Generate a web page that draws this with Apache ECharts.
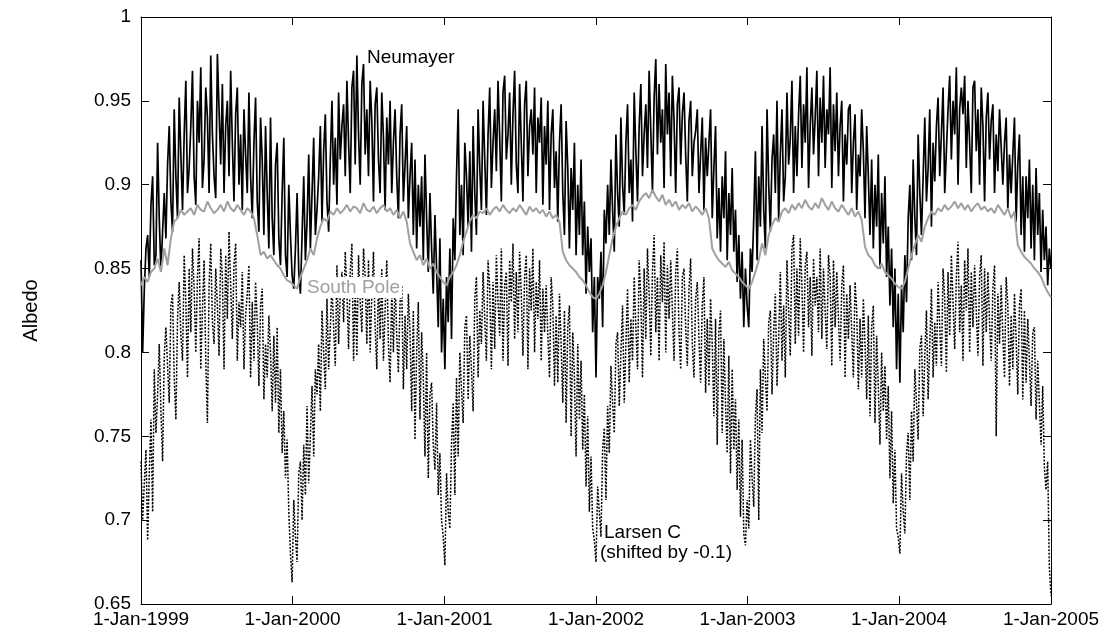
<!DOCTYPE html>
<html>
<head>
<meta charset="utf-8">
<script src="https://cdn.jsdelivr.net/npm/echarts@6.0.0/dist/echarts.min.js"></script>
<style>
  html, body { margin: 0; padding: 0; background: #fff; }
  #chart { width: 1104px; height: 633px; }
</style>
</head>
<body>
<div id="chart"></div>
<script>
// albedo every few days (values x1000)
const START_YEAR = 1999;
const END_YEAR = 2005;
const STEP_DAYS = 4;     // neumayer + larsen
const SP_STEP_DAYS = 8;  // south pole (smoother)

const yearTicks = [1999, 2000, 2001, 2002, 2003, 2004, 2005];

const neumayer = [
  // 1999
  855, 800, 838, 862, 870, 845, 888, 905,
  852, 858, 925, 880, 848, 872, 895,
  868, 912, 935, 890, 872, 945, 905, 880,
  952, 918, 885, 930, 962, 895, 910,
  935, 968, 905, 888, 950, 925, 970, 898,
  915, 958, 940, 895, 977, 930, 905,
  892, 978, 945, 912, 960, 895, 935, 950,
  905, 968, 925, 890, 942, 958, 900, 930,
  885, 945, 918, 895, 955, 905, 880,
  925, 952, 890, 872, 940, 915, 870, 935,
  895, 862, 940, 880, 858, 912, 925,
  868, 852, 895, 928, 858, 845, 900, 870, 846,
  // 2000
  838, 862, 895, 848, 835, 870, 905, 855,
  878, 918, 862, 895, 928, 870, 885,
  905, 935, 878, 920, 942, 890, 872, 915,
  950, 900, 928, 888, 955, 915, 935,
  948, 905, 962, 925, 895, 958, 968, 912,
  977, 930, 900, 960, 972, 918, 945,
  905, 962, 938, 890, 948, 958, 915, 895,
  955, 928, 885, 940, 912, 950, 895, 925,
  945, 905, 880, 930, 948, 890, 912,
  935, 880, 905, 925, 870, 915, 862, 900,
  875, 905, 855, 918, 880, 848, 895,
  862, 835, 882, 850, 815, 868, 800, 832,
  // 2001
  790, 845, 818, 862, 808, 880, 855, 905,
  945, 870, 900, 858, 925, 905, 875,
  920, 860, 935, 895, 870, 945, 910, 885,
  950, 915, 882, 930, 958, 898, 925,
  945, 908, 962, 928, 890, 955, 965, 915,
  930, 955, 900, 942, 968, 912, 895,
  960, 925, 890, 948, 962, 905, 935, 945,
  918, 958, 895, 940, 925, 952, 888, 935,
  912, 950, 885, 930, 945, 898, 920,
  878, 925, 948, 895, 870, 938, 910, 862,
  910, 885, 925, 858, 900, 870, 915,
  858, 890, 835, 875, 848, 868, 812, 845,
  // 2002
  785, 845, 832, 860, 815, 885, 865, 900,
  870, 915, 885, 860, 930, 895, 875,
  940, 900, 882, 925, 948, 895, 915, 878,
  955, 920, 890, 935, 960, 905, 930,
  948, 910, 968, 932, 895, 952, 975, 918,
  960, 925, 945, 898, 972, 930, 955,
  905, 965, 938, 895, 948, 958, 912, 942,
  955, 918, 890, 938, 950, 905, 925, 932,
  945, 895, 918, 940, 885, 928, 905,
  925, 945, 880, 910, 935, 868, 898, 860,
  905, 880, 920, 855, 895, 870, 910,
  860, 885, 842, 870, 832, 860, 815, 850, 828,
  // 2003
  815, 862, 848, 880, 920, 855, 905, 875,
  935, 885, 862, 945, 900, 872, 915,
  930, 895, 950, 878, 918, 945, 890, 905,
  955, 912, 928, 962, 895, 935, 905,
  942, 965, 910, 948, 925, 970, 898, 935,
  958, 918, 940, 968, 905, 952, 925,
  965, 910, 945, 930, 970, 898, 948, 920,
  955, 905, 935, 950, 890, 930, 912, 945,
  948, 895, 925, 942, 885, 918, 905,
  945, 920, 880, 935, 905, 870, 915, 862,
  900, 875, 918, 850, 895, 865, 905,
  845, 875, 828, 862, 815, 850, 790, 835,
  // 2004
  782, 840, 812, 858, 830, 880, 900, 855,
  915, 880, 858, 930, 895, 870, 905,
  940, 890, 910, 945, 875, 925, 902, 935,
  952, 905, 930, 958, 895, 920, 945,
  965, 915, 950, 930, 970, 900, 945, 958,
  942, 965, 910, 950, 925, 895, 958,
  962, 920, 945, 900, 958, 935, 890, 940,
  955, 915, 938, 948, 895, 930, 908, 945,
  945, 900, 925, 940, 885, 918, 895,
  918, 940, 878, 912, 930, 870, 905, 860,
  905, 880, 915, 862, 900, 855, 910,
  870, 895, 848, 885, 855, 875, 840, 862,
  850
];

const southPole = [
  // 1999
  840, 845, 842, 848,  850, 856, 848,  862, 852, 868, 878,
  880, 885, 882, 884,  886, 882, 888, 885,  884, 890, 886, 883,
  885, 888, 884, 890,  886, 884, 888, 885,  882, 886, 884, 880,
  870, 858, 860, 856,  858, 855, 852, 850,  846, 843, 842,
  // 2000
  840, 838, 845, 850,  855, 862, 858,  868, 875, 880, 878,
  884, 882, 886, 883,  885, 888, 884, 887,  886, 883, 889, 885,
  884, 887, 883, 886,  888, 884, 886, 882,  885, 880, 884, 878,
  865, 860, 855, 858,  852, 856, 850, 853,  848, 845, 842,
  // 2001
  840, 845, 848, 852,  858, 866, 872,  878, 882, 880, 884,
  883, 886, 882, 885,  887, 884, 888, 885,  883, 886, 884, 888,
  885, 882, 887, 884,  886, 883, 885, 881,  884, 880, 882, 878,
  860, 855, 852, 850,  848, 845, 843,  840, 836, 833,
  // 2002
  832, 835, 840, 848,  858, 868, 875,  880, 884, 882, 886,
  888, 885, 890, 893,  895, 892, 897, 893,  890, 894, 888, 891,
  887, 890, 885, 888,  886, 889, 884, 887,  885, 882, 886, 880,
  862, 858, 855, 853,  851, 854, 849, 847,  845, 842, 840,
  // 2003
  838, 842, 848, 855,  865, 858, 870,  876, 880, 878, 884,
  886, 883, 888, 885,  889, 886, 891, 887,  885, 889, 886, 892,
  888, 885, 890, 886,  884, 888, 885, 882,  886, 881, 884, 879,
  863, 858, 856, 852,  850, 853, 848, 846,  844, 841, 839,
  // 2004
  838, 842, 850, 858,  864, 870, 866,  875, 880, 884, 882,
  886, 884, 888, 885,  887, 890, 886, 889,  885, 888, 884, 887,
  889, 885, 887, 884,  886, 883, 888, 885,  882, 886, 880, 884,
  864, 860, 857, 855,  853, 850, 848,  845, 840, 836,
  833
];

// Larsen C, already shifted by -0.1 as in the figure
const larsen = [
  // 1999
  735, 700, 722, 742, 688, 728, 760, 705,
  790, 752, 775, 805, 765, 735, 798,
  815, 792, 770, 828, 835, 785, 760, 820,
  842, 810, 795, 858, 830, 785, 850,
  812, 862, 838, 800, 845, 868, 790, 825,
  855, 795, 758, 840, 865, 818, 805,
  850, 828, 798, 862, 845, 790, 858, 820,
  872, 840, 808, 852, 865, 795, 830, 815,
  848, 790, 822, 835, 852, 785, 830,
  795, 842, 818, 780, 828, 838, 772, 805,
  785, 822, 800, 765, 810, 770, 815,
  752, 790, 740, 765, 725, 748, 705, 680, 663,
  // 2000
  712, 690, 675, 728, 735, 700, 745, 715,
  768, 722, 750, 780, 738, 790, 775,
  805, 765, 825, 800, 778, 832, 790, 815,
  840, 815, 792, 852, 805, 835, 848,
  818, 860, 835, 802, 848, 865, 795, 842,
  798, 858, 830, 812, 862, 845, 805,
  855, 800, 835, 860, 815, 790, 845, 808,
  850, 795, 825, 855, 805, 782, 838, 800,
  845, 810, 788, 830, 840, 778, 822,
  790, 835, 812, 765, 825, 748, 800, 830,
  760, 812, 785, 738, 800, 725, 775,
  782, 745, 730, 770, 715, 740, 700, 690,
  // 2001
  673, 728, 705, 695, 745, 770, 715, 785,
  738, 800, 778, 758, 815, 822, 772,
  810, 790, 765, 832, 845, 785, 825, 805,
  848, 820, 795, 855, 838, 790, 842,
  802, 858, 830, 810, 862, 795, 840, 848,
  792, 855, 830, 865, 808, 848, 812,
  860, 835, 798, 845, 858, 790, 850, 825,
  862, 800, 842, 820, 855, 795, 838, 812,
  840, 810, 785, 845, 828, 780, 822,
  782, 835, 805, 770, 825, 758, 815, 828,
  750, 812, 785, 738, 805, 760, 795,
  742, 775, 720, 762, 705, 738, 695, 688,
  // 2002
  675, 720, 705, 690, 742, 755, 712, 768,
  740, 792, 770, 752, 805, 812, 768,
  800, 828, 770, 805, 838, 782, 820, 795,
  845, 815, 790, 855, 832, 785, 850,
  808, 862, 835, 798, 848, 870, 812, 845,
  795, 858, 830, 866, 800, 852, 820,
  855, 825, 795, 848, 862, 812, 790, 845,
  850, 815, 792, 838, 856, 805, 785, 832,
  842, 808, 782, 828, 845, 776, 820,
  780, 832, 805, 762, 820, 745, 812, 825,
  752, 808, 770, 740, 798, 728, 790,
  742, 772, 718, 760, 702, 748, 692, 685, 712,
  // 2003
  695, 748, 725, 708, 762, 778, 700, 790,
  752, 808, 785, 765, 818, 825, 775,
  812, 835, 780, 808, 848, 795, 828, 785,
  855, 825, 798, 862, 870, 805, 850,
  810, 868, 840, 800, 852, 860, 815, 845,
  798, 856, 828, 845, 812, 862, 808,
  850, 825, 802, 858, 845, 792, 855, 815,
  848, 820, 795, 840, 852, 785, 835, 808,
  840, 812, 785, 842, 825, 778, 820,
  785, 832, 805, 772, 822, 762, 815, 828,
  758, 810, 780, 745, 800, 765, 792,
  748, 780, 725, 765, 710, 742, 695, 690,
  // 2004
  680, 728, 705, 692, 740, 752, 712, 765,
  735, 790, 770, 748, 802, 810, 762,
  798, 825, 772, 805, 838, 785, 818, 792,
  842, 815, 792, 850, 832, 788, 848,
  810, 858, 830, 802, 845, 866, 812, 840,
  795, 855, 825, 862, 800, 848, 815,
  852, 825, 798, 845, 858, 792, 850, 812,
  848, 818, 795, 838, 852, 750, 835, 805,
  840, 810, 785, 845, 828, 780, 822,
  790, 835, 808, 775, 828, 838, 772, 825,
  782, 820, 795, 768, 812, 815, 760,
  795, 770, 745, 780, 732, 718, 735, 672,
  655
];

function toPoints(values, step) {
  return values.map((v, i) => [new Date(START_YEAR, 0, 1 + i * step).getTime(), v / 1000]);
}

const FONT = '"Liberation Sans", Arial, Helvetica, sans-serif';
const chart = echarts.init(document.getElementById('chart'), null, { renderer: 'canvas' });

const xMin = new Date(START_YEAR, 0, 1).getTime();
const xMax = new Date(END_YEAR, 0, 1).getTime();
const yearMs = 365 * 24 * 3600 * 1000;

const baseX = {
  type: 'time',
  min: xMin,
  max: xMax,
  minInterval: yearMs,
  maxInterval: yearMs + 24 * 3600 * 1000,
  splitLine: { show: false },
  axisLine: { lineStyle: { color: '#000', width: 1 } },
  axisTick: { inside: true, length: 8, lineStyle: { color: '#000' } },
  minorTick: { show: false },
};

const baseY = {
  type: 'value',
  min: 0.65,
  max: 1,
  interval: 0.05,
  splitLine: { show: false },
  axisLine: { show: true, lineStyle: { color: '#000', width: 1 } },
  axisTick: { show: true, inside: true, length: 8, lineStyle: { color: '#000' } },
};

const option = {
  animation: false,
  backgroundColor: '#fff',
  grid: { left: 141, right: 53, top: 17, bottom: 29 },
  xAxis: [
    Object.assign({}, baseX, {
      position: 'bottom',
      axisLabel: {
        color: '#000',
        fontFamily: FONT,
        fontSize: 19,
        margin: 6,
        showMinLabel: true,
        showMaxLabel: true,
        formatter: (v) => {
          const y = new Date(v).getFullYear();
          return yearTicks.indexOf(y) >= 0 ? '1-Jan-' + y : '';
        },
      },
    }),
    Object.assign({}, baseX, { position: 'top', axisLabel: { show: false } }),
  ],
  yAxis: [
    Object.assign({}, baseY, {
      position: 'left',
      name: 'Albedo',
      nameLocation: 'middle',
      nameRotate: 90,
      nameGap: 100,
      nameTextStyle: { color: '#000', fontFamily: FONT, fontSize: 20 },
      axisLabel: { color: '#000', fontFamily: FONT, fontSize: 19, margin: 10 },
    }),
    Object.assign({}, baseY, { position: 'right', axisLabel: { show: false } }),
  ],
  series: [
    {
      name: 'Neumayer',
      type: 'line',
      data: toPoints(neumayer, STEP_DAYS),
      showSymbol: false,
      lineStyle: { color: '#000', width: 1.7 },
      z: 2,
    },
    {
      name: 'South Pole',
      type: 'line',
      data: toPoints(southPole, SP_STEP_DAYS),
      showSymbol: false,
      lineStyle: { color: '#a0a0a0', width: 2 },
      z: 3,
    },
    {
      name: 'Larsen C',
      type: 'line',
      data: toPoints(larsen, STEP_DAYS),
      showSymbol: false,
      lineStyle: { color: '#000', width: 1.5, type: [2, 1.5] },
      z: 4,
    },
  ],
  graphic: [
    { type: 'text', left: 367, top: 48, z: 10, style: { text: 'Neumayer', font: '19px ' + FONT, fill: '#000' } },
    {
      type: 'text', left: 305, top: 277, z: 10,
      style: { text: 'South Pole', font: '19px ' + FONT, fill: '#a0a0a0', backgroundColor: '#fff', padding: [1, 2] },
    },
    { type: 'text', left: 604, top: 523, z: 10, style: { text: 'Larsen C', font: '19px ' + FONT, fill: '#000' } },
    { type: 'text', left: 600, top: 543, z: 10, style: { text: '(shifted by -0.1)', font: '19px ' + FONT, fill: '#000' } },
  ],
};

chart.setOption(option);
</script>
</body>
</html>
